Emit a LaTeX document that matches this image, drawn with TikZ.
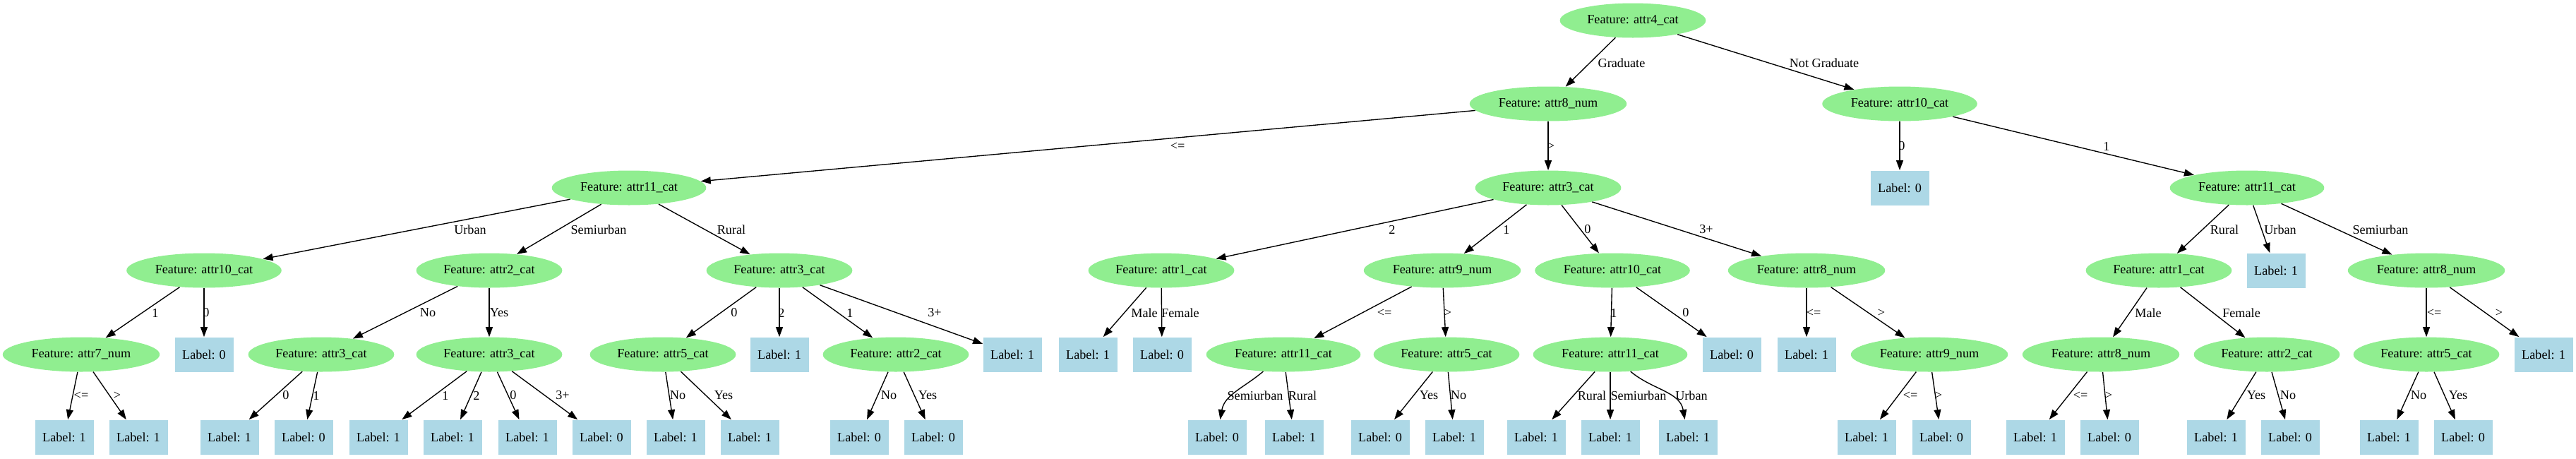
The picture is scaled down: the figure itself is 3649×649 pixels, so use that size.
\documentclass[tikz,border=0pt]{standalone}
\usepackage{fontspec}
\setmainfont{Liberation Serif}
\usetikzlibrary{shapes.geometric,arrows.meta}
\definecolor{featgreen}{RGB}{144,238,144}
\definecolor{leafblue}{RGB}{173,216,230}

\begin{document}
\begin{tikzpicture}[x=0.5pt,y=-0.5pt,font=\fontsize{9.1}{11}\selectfont,
  feat/.style={ellipse,fill=featgreen,inner xsep=4.2pt,inner ysep=0pt,minimum height=24.5pt},
  leaf/.style={rectangle,fill=leafblue,minimum width=41.5pt,minimum height=24.5pt,inner sep=0pt},
  lbl/.style={inner sep=0pt},
  arr/.style={line width=0.68pt,-{Triangle[length=7pt,width=5pt]}}]
  \useasboundingbox (0,0) rectangle (3649,649);

  % root
  \node[feat] (r) at (2313,29) {Feature: attr4\_cat};

  % level 1
  \node[feat] (a) at (2193,147) {Feature: attr8\_num};
  \node[feat] (b) at (2691,147) {Feature: attr10\_cat};

  % level 2
  \node[feat] (aa) at (891,266) {Feature: attr11\_cat};
  \node[feat] (ab) at (2193,266) {Feature: attr3\_cat};
  \node[leaf] (ba) at (2691,266) {Label: 0};
  \node[feat] (bb) at (3183,266) {Feature: attr11\_cat};

  % level 3
  \node[feat] (aaa) at (289,383) {Feature: attr10\_cat};
  \node[feat] (aab) at (693,383) {Feature: attr2\_cat};
  \node[feat] (aac) at (1104,383) {Feature: attr3\_cat};
  \node[feat] (aba) at (1645,383) {Feature: attr1\_cat};
  \node[feat] (abb) at (2043,383) {Feature: attr9\_num};
  \node[feat] (abc) at (2284,383) {Feature: attr10\_cat};
  \node[feat] (abd) at (2559,383) {Feature: attr8\_num};
  \node[feat] (bba) at (3058,383) {Feature: attr1\_cat};
  \node[leaf] (bbb) at (3224,383) {Label: 1};
  \node[feat] (bbc) at (3437,383) {Feature: attr8\_num};

  % level 4
  \node[feat] (aaaa) at (115,502) {Feature: attr7\_num};
  \node[leaf] (aaab) at (289,502) {Label: 0};
  \node[feat] (aaba) at (455,502) {Feature: attr3\_cat};
  \node[feat] (aabb) at (693,502) {Feature: attr3\_cat};
  \node[feat] (aaca) at (939,502) {Feature: attr5\_cat};
  \node[leaf] (aacb) at (1104,502) {Label: 1};
  \node[feat] (aacc) at (1269,502) {Feature: attr2\_cat};
  \node[leaf] (aacd) at (1434,502) {Label: 1};
  \node[leaf] (abaa) at (1541,502) {Label: 1};
  \node[leaf] (abab) at (1646,502) {Label: 0};
  \node[feat] (abba) at (1818,502) {Feature: attr11\_cat};
  \node[feat] (abbb) at (2049,502) {Feature: attr5\_cat};
  \node[feat] (abca) at (2281,502) {Feature: attr11\_cat};
  \node[leaf] (abcb) at (2453,502) {Label: 0};
  \node[leaf] (abda) at (2559,502) {Label: 1};
  \node[feat] (abdb) at (2733,502) {Feature: attr9\_num};
  \node[feat] (bbaa) at (2976,502) {Feature: attr8\_num};
  \node[feat] (bbab) at (3211,502) {Feature: attr2\_cat};
  \node[feat] (bbca) at (3437,502) {Feature: attr5\_cat};
  \node[leaf] (bbcb) at (3603,502) {Label: 1};

  % level 5
  \foreach \n/\x/\v in {aaaaa/91/1,aaaab/196/1,aabaa/325/1,aabab/430/0,
      aabba/536/1,aabbb/641/1,aabbc/747/1,aabbd/852/0,aacaa/957/1,aacab/1062/1,
      aacca/1217/0,aaccb/1322/0,abbaa/1724/0,abbab/1833/1,abbba/1955/0,abbbb/2060/1,
      abcaa/2176/1,abcab/2281/1,abcac/2391/1,abdba/2644/1,abdbb/2750/0,
      bbaaa/2883/1,bbaab/2988/0,bbaba/3139/1,bbabb/3244/0,bbcaa/3384/1,bbcab/3489/0}
    \node[leaf] (\n) at (\x,619) {Label: \v};

  % edges and their labels
  \foreach \src/\dst/\lx/\ly/\txt in {
      r/a/2297/89/Graduate, r/b/2584/89/Not Graduate,
      a/aa/1668/207/<=, a/ab/2197/207/>, b/ba/2694/207/0, b/bb/2984/207/1,
      aa/aaa/666/325/Urban, aa/aab/848/325/Semiurban, aa/aac/1036/325/Rural,
      ab/aba/1972/325/2, ab/abb/2134/325/1, ab/abc/2249/325/0, ab/abd/2417/325/3+,
      bb/bba/3151/325/Rural, bb/bbb/3230/325/Urban, bb/bbc/3372/325/Semiurban,
      aaa/aaaa/220/443/1, aaa/aaab/292/443/0,
      aab/aaba/606/443/No, aab/aabb/707/443/Yes,
      aac/aaca/1040/443/0, aac/aacb/1107/443/2, aac/aacc/1204/443/1, aac/aacd/1324/443/3+,
      aba/abaa/1621/443/Male, aba/abab/1672/443/Female,
      abb/abba/1961/443/<=, abb/abbb/2051/443/>,
      abc/abca/2286/443/1, abc/abcb/2388/443/0,
      abd/abda/2569/443/<=, abd/abdb/2665/443/>,
      bba/bbaa/3043/443/Male, bba/bbab/3175/443/Female,
      bbc/bbca/3448/443/<=, bbc/bbcb/3540/443/>,
      aaaa/aaaaa/115/560/<=, aaaa/aaaab/166/560/>,
      aaba/aabaa/405/560/0, aaba/aabab/448/560/1,
      aabb/aabba/631/560/1, aabb/aabbb/675/560/2, aabb/aabbc/727/560/0, aabb/aabbd/797/560/3+,
      aaca/aacaa/960/560/No, aaca/aacab/1025/560/Yes,
      aacc/aacca/1259/560/No, aacc/aaccb/1314/560/Yes,
      abba/abbab/1845/560/Rural,
      abbb/abbba/2024/560/Yes, abbb/abbbb/2066/560/No,
      abca/abcaa/2255/560/Rural, abca/abcab/2321/560/Semiurban,
      abdb/abdba/2706/560/<=, abdb/abdbb/2746/560/>,
      bbaa/bbaaa/2947/560/<=, bbaa/bbaab/2987/560/>,
      bbab/bbaba/3196/560/Yes, bbab/bbabb/3241/560/No,
      bbca/bbcaa/3426/560/No, bbca/bbcab/3482/560/Yes}
  {
    \draw[arr] (\src) -- (\dst);
    \node[lbl] (\src-\dst) at (\lx,\ly) {\txt};
  }

  % the two bent edges
  \draw[arr] (abba) to[out=-140,in=80] (abbaa);
  \node[lbl] (abba-abbaa) at (1778,560) {Semiurban};
  \draw[arr] (abca) to[out=-40,in=100] (abcac);
  \node[lbl] (abca-abcac) at (2396,560) {Urban};

\end{tikzpicture}
\end{document}
